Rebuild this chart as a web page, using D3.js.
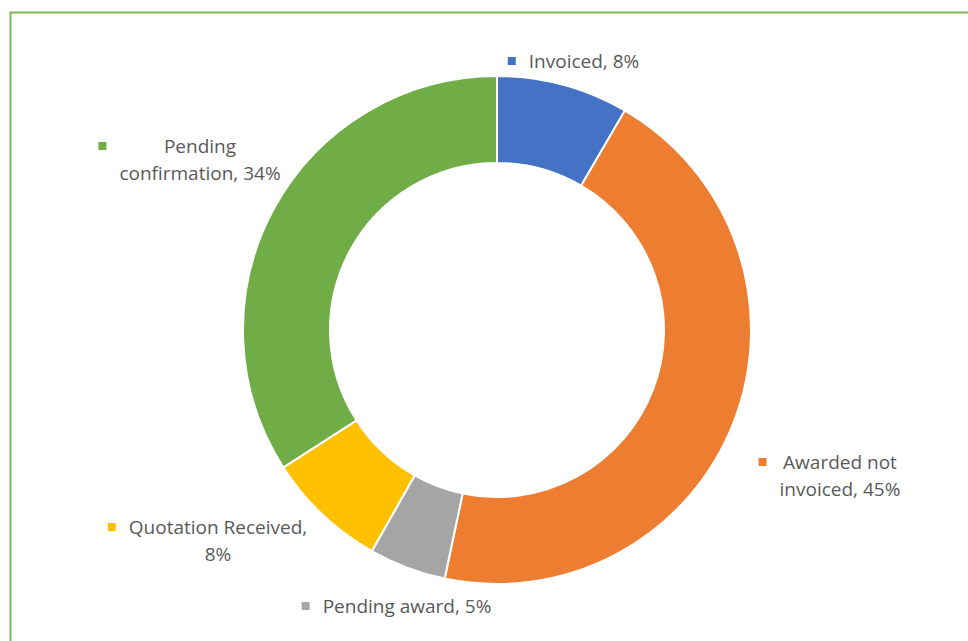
<!DOCTYPE html>
<meta charset="utf-8">
<head>
<style>
  body { margin: 0; background: #fff; }
  .lbl { font-family: "Open Sans", sans-serif; font-size: 19px; fill: #595959; }
</style>
</head>
<body>
<script src="https://d3js.org/d3.v7.min.js"></script>
<script>
// chart data
var categories = ["Invoiced", "Awarded not invoiced", "Pending award", "Quotation Received", "Pending confirmation"];
var values = [8.4, 44.9, 4.9, 7.7, 34.1];
var labelText = [
  ["Invoiced, 8%"],
  ["Awarded not", "invoiced, 45%"],
  ["Pending award, 5%"],
  ["Quotation Received,", "8%"],
  ["Pending", "confirmation, 34%"]
];
var colors = ["#4472c4", "#ed7d31", "#a5a5a5", "#ffc000", "#70ad47"];

// where each label block's centre sits (layout only)
var labelPos = [[584, 61], [840, 462], [407, 606], [218, 527], [200, 146]];

var W = 968, H = 641;
var cx = 497, cy = 330, outerR = 254, innerR = 167;

var svg = d3.select("body").append("svg")
    .attr("width", W)
    .attr("height", H);

// outer frame
svg.append("rect")
    .attr("x", 10.5).attr("y", 12.5)
    .attr("width", W + 20).attr("height", H + 20)
    .attr("fill", "none")
    .attr("stroke", "#7ab65a")
    .attr("stroke-width", 2);

var pie = d3.pie().sort(null).value(function(d) { return d; });
var arc = d3.arc().innerRadius(innerR).outerRadius(outerR);

var g = svg.append("g").attr("transform", "translate(" + cx + "," + cy + ")");

g.selectAll("path")
    .data(pie(values))
    .enter().append("path")
    .attr("d", arc)
    .attr("fill", function(d, i) { return colors[i]; })
    .attr("stroke", "#fff")
    .attr("stroke-width", 2);

// labels with legend key
var lineH = 27;
labelText.forEach(function(lines, i) {
    var lg = svg.append("g");
    var p = labelPos[i];
    var texts = lines.map(function(t, j) {
        return lg.append("text")
            .attr("class", "lbl")
            .attr("x", p[0])
            .attr("y", p[1] + j * lineH)
            .attr("dy", "0.35em")
            .attr("text-anchor", "middle")
            .text(t);
    });
    var maxW = d3.max(texts, function(t) { return t.node().getComputedTextLength(); });
    lg.append("rect")
        .attr("x", p[0] - maxW / 2 - 21)
        .attr("y", p[1] - 4)
        .attr("width", 8).attr("height", 8)
        .attr("fill", colors[i]);
});
</script>
</body>
